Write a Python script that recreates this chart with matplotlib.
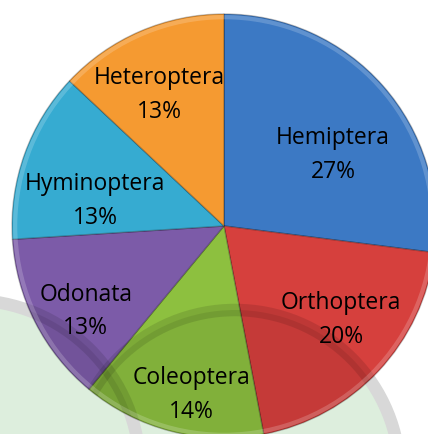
import numpy as np
import matplotlib
matplotlib.use("Agg")
import matplotlib.pyplot as plt
from matplotlib.patches import Circle

# data
orders = ["Hemiptera", "Orthoptera", "Coleoptera", "Odonata", "Hyminoptera", "Heteroptera"]
shares = [27, 20, 14, 13, 13, 13]
colors = ["#3C79C4", "#D6403D", "#8DC03F", "#7C5BA8", "#36ABD1", "#F59A31"]

# label placement (radius fraction, angle in degrees) per slice
label_pos = [(0.62, 34), (0.70, -38), (0.80, -101), (0.76, -149), (0.62, 168), (0.70, 116)]

fig = plt.figure(figsize=(4.28, 4.34), dpi=100)
W, H = 428, 434
cx, cy, R = 224, 226, 212
ax = fig.add_axes([(cx - R) / W, (H - cy - R) / H, 2 * R / W, 2 * R / H])

wedges, _ = ax.pie(
    shares,
    colors=colors,
    startangle=90,
    counterclock=False,
    radius=1,
    wedgeprops={"edgecolor": "#00000040", "linewidth": 1.0, "zorder": 2},
)
for w in wedges:
    w.set_clip_on(False)
ax.set_xlim(-1, 1)
ax.set_ylim(-1, 1)
ax.set_aspect("equal")
ax.axis("off")


def px(x, y):
    return ((x - cx) / R, (cy - y) / R)


# faint watermark logo behind and over the pie
marks = [(px(235, 475), 165 / R), (px(-30, 470), 170 / R)]
clip = Circle((0, 0), 1, transform=ax.transData)
for (mx, my), mr in marks:
    ax.add_patch(Circle((mx, my), mr, facecolor="#DDEEDD", edgecolor="#D8D8D8",
                        lw=9, zorder=1, clip_on=False))
    over = Circle((mx, my), mr, facecolor="#00000014", edgecolor="#0000001C",
                  lw=9, zorder=3)
    ax.add_patch(over)
    over.set_clip_path(clip)

# soft rim highlight for the bevelled look
ax.add_patch(Circle((0, 0), 0.985, fill=False, edgecolor="#FFFFFF30", lw=3,
                    zorder=3, clip_on=False))

dy = 2.5 / R
for name, val, (r, ang) in zip(orders, shares, label_pos):
    a = np.deg2rad(ang)
    ax.text(r * np.cos(a), r * np.sin(a) - dy, f"{name}\n{val}%",
            ha="center", va="center", fontsize=16.5, family="Open Sans",
            linespacing=1.55, color="black", zorder=5)

fig.savefig("out.png", dpi=100)
